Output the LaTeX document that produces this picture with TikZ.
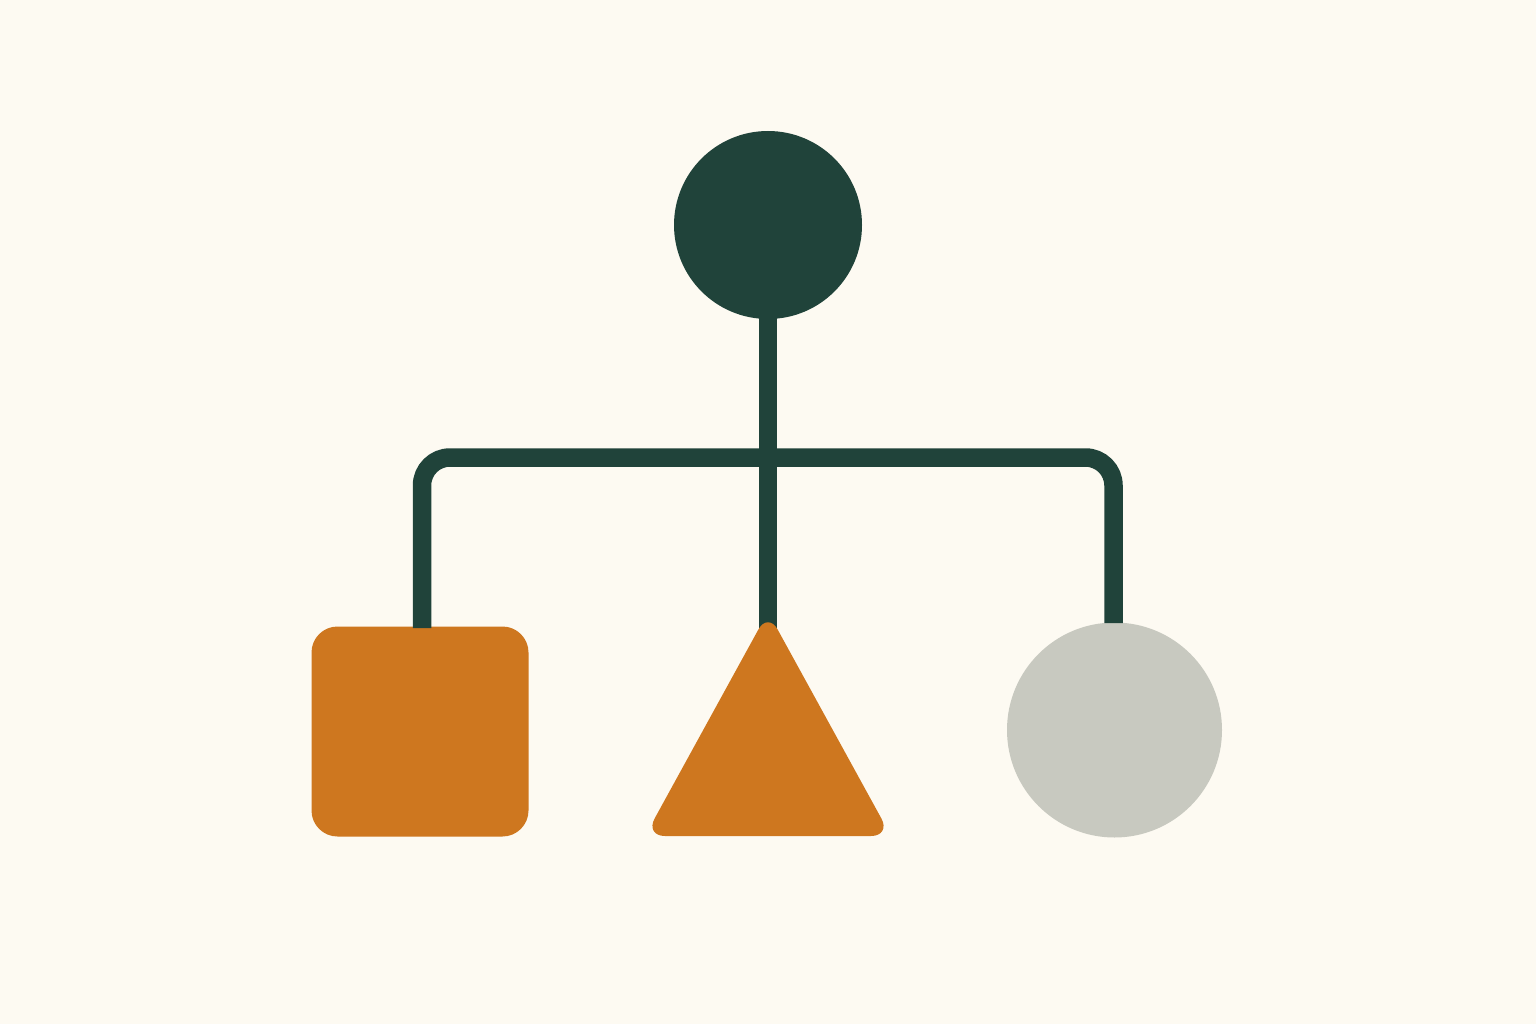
\documentclass[tikz,border=0pt]{standalone}
\definecolor{bgc}{HTML}{FDFAF2}
\definecolor{dkgreen}{HTML}{20433A}
\definecolor{orng}{HTML}{CE771F}
\definecolor{lgray}{HTML}{C8C9C0}
\begin{document}
\begin{tikzpicture}[x=1pt,y=-1pt,
  link/.style={draw=dkgreen,line width=18.5pt},
  shapefill/.style={draw=none,inner sep=0pt}]
\fill[bgc] (0,0) rectangle (1536,1024);
\useasboundingbox (0,0) rectangle (1536,1024);
% nodes
\node[shapefill,circle,fill=dkgreen,minimum size=188pt] (top) at (768,225) {};
\node[shapefill,rectangle,rounded corners=26pt,fill=orng,minimum width=217pt,minimum height=210pt] (sq) at (420,731.5) {};
\node[shapefill,circle,fill=lgray,minimum size=215pt] (gray) at (1114.5,730) {};
\coordinate (apex) at (768,638);
\coordinate (sqtop) at (422,628);
\coordinate (grtop) at (1113.5,623);
\coordinate (jn) at (768,457.5);
% connectors
\draw[link] ([yshift=12pt]top.south) -- (apex);
\draw[link,rounded corners=28pt] (sqtop) |- (jn) -| (grtop);
\fill[orng,rounded corners=20pt] (768,612) -- (891,836) -- (645,836) -- cycle;
\end{tikzpicture}
\end{document}
